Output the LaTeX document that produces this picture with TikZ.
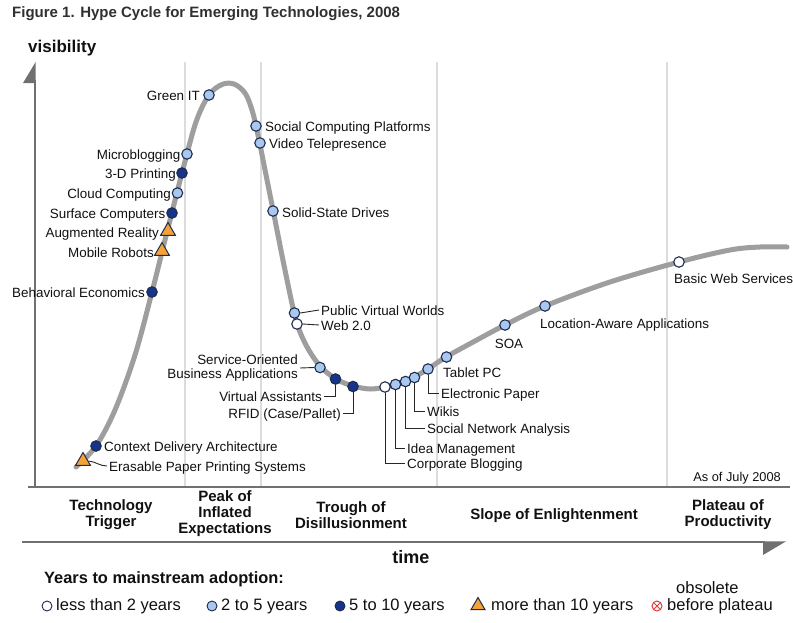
\documentclass[tikz,border=0pt]{standalone}
\usepackage{fontspec}
\setmainfont{Liberation Sans}
\usetikzlibrary{shapes.geometric}
\definecolor{curvegray}{HTML}{9E9E9E}
\definecolor{sepgray}{HTML}{DCDCDC}
\definecolor{axisgray}{HTML}{707070}
\definecolor{mkline}{HTML}{1E2B4E}
\definecolor{lightblue}{HTML}{A9C8F0}
\definecolor{darkblue}{HTML}{16358A}
\definecolor{orangetri}{HTML}{F2A236}
\definecolor{obsred}{HTML}{E03C3C}
\definecolor{txt}{HTML}{111111}
\definecolor{titlegray}{HTML}{303030}
\tikzset{
  mkbase/.style={circle, draw=mkline, line width=1.1pt, inner sep=0pt, minimum size=10.5pt},
  lt2/.style={mkbase, fill=white},
  y25/.style={mkbase, fill=lightblue},
  y510/.style={mkbase, fill=darkblue},
  y10/.style={regular polygon, regular polygon sides=3, draw=mkline, line width=1pt, fill=orangetri, inner sep=0pt, minimum size=17pt},
  lbl/.style={font=\fontsize{13.4}{14.5}\selectfont, text=txt, inner xsep=2pt, inner ysep=0pt, text height=12.5pt, text depth=2.5pt},
  lbltwo/.style={font=\fontsize{13.4}{14.5}\selectfont, text=txt, inner xsep=2pt, inner ysep=0pt, align=right},
  leader/.style={draw=black!85, line width=0.9pt},
  phase/.style={font=\bfseries\fontsize{15}{16}\selectfont, text=txt, align=center, inner sep=0pt},
  lgd/.style={font=\fontsize{16.5}{18}\selectfont, text=txt, inner sep=0pt, text height=12pt, text depth=3.5pt, anchor=west},
  sepline/.style={draw=sepgray, line width=2.6pt},
  axisline/.style={draw=axisgray, line width=1.3pt},
}
\begin{document}
\begin{tikzpicture}[x=1pt, y=-1pt]
\useasboundingbox (0,0) rectangle (793,622);
\fill[white] (0,0) rectangle (793,622);

% title
\node[anchor=west, inner sep=0pt, font=\bfseries\fontsize{15}{17}\selectfont, text=titlegray] (title) at (12,14) {Figure 1. Hype Cycle for Emerging Technologies, 2008};
\node[anchor=west, inner sep=0pt, font=\bfseries\fontsize{17}{19}\selectfont, text=txt] (vis) at (28,48) {visibility};

% phase separators
\foreach \sx in {185,261,437,667} {
  \draw[sepline] (\sx,62) -- (\sx,486);
}

% axes
\draw[axisline] (35,80) -- (35,487);
\fill[axisgray] (35.6,62) -- (35.6,83) -- (23,83) -- cycle;
\draw[axisline] (28,487) -- (790,487);
\draw[axisline] (22,542) -- (765,542);
\fill[axisgray] (763,541.35) -- (786,541.35) -- (763,555) -- cycle;

% hype curve
\draw[curvegray, line width=5pt, line cap=round, line join=round]
  plot[smooth, tension=0.55] coordinates {
  (76,467) (96,446) (115,410) (135,355) (152,292) (167,232) (182,173)
  (196,122) (209,95) (222,84.5) (234,84) (245,93) (252,110) (258,135)
  (266,175) (275,220) (286,275) (296,320) (306,345) (320,366) (336,379)
  (353,386) (370,389) (385,387) (400,383) (414,377) (428,369) (446,357)
  (475,341) (505,325) (545,306) (610,282) (679,262) (730,250) (760,247) (787,247)};

% markers
\node[y10] (tEP) at (83,461) {};
\node[y510] (mCD) at (96,446) {};
\node[y510] (mBE) at (152,292) {};
\node[y10] (tMR) at (162,251) {};
\node[y10] (tAR) at (168,231) {};
\node[y510] (mSC) at (172,213) {};
\node[y25] (mCC) at (177.5,193) {};
\node[y510] (m3D) at (182,173) {};
\node[y25] (mMB) at (187,154) {};
\node[y25] (mGI) at (209,95) {};
\node[y25] (mSCP) at (256,126) {};
\node[y25] (mVT) at (260,143) {};
\node[y25] (mSSD) at (273,211) {};
\node[y25] (mPVW) at (294.5,313) {};
\node[lt2] (mW2) at (297,324) {};
\node[y25] (mSO) at (320,367.5) {};
\node[y510] (mVA) at (335.5,379) {};
\node[y510] (mRF) at (353,386.5) {};
\node[lt2] (mCB) at (385,387) {};
\node[y25] (mIM) at (395.5,384.5) {};
\node[y25] (mSNA) at (405.5,381.5) {};
\node[y25] (mWK) at (414.5,377.5) {};
\node[y25] (mEP) at (428,369) {};
\node[y25] (mTP) at (446.5,357) {};
\node[y25] (mSOA) at (505,325) {};
\node[y25] (mLA) at (545,306) {};
\node[lt2] (mBW) at (679,262) {};

% labels
\node[lbl, anchor=east] (lGI) at (202,95) {Green IT};
\node[lbl, anchor=east] (lMB) at (182.5,154) {Microblogging};
\node[lbl, anchor=east] (l3D) at (178,173) {3-D Printing};
\node[lbl, anchor=east] (lCC) at (173,193) {Cloud Computing};
\node[lbl, anchor=east] (lSC) at (167.5,213) {Surface Computers};
\node[lbl, anchor=east] (lAR) at (161,232) {Augmented Reality};
\node[lbl, anchor=east] (lMR) at (156,252) {Mobile Robots};
\node[lbl, anchor=east] (lBE) at (147,292) {Behavioral Economics};
\node[lbl, anchor=west] (lCD) at (102,446) {Context Delivery Architecture};
\node[lbl, anchor=west] (lEP) at (107,466) {Erasable Paper Printing Systems};
\node[lbl, anchor=west] (lSCP) at (263,126) {Social Computing Platforms};
\node[lbl, anchor=west] (lVT) at (267,143) {Video Telepresence};
\node[lbl, anchor=west] (lSSD) at (280,212) {Solid-State Drives};
\node[lbl, anchor=west] (lPVW) at (319,310) {Public Virtual Worlds};
\node[lbl, anchor=west] (lW2) at (319,325) {Web 2.0};
\node[lbltwo, anchor=east] (lSO) at (300,368) {Service-Oriented\\Business Applications};
\node[lbl, anchor=east] (lVA) at (324,396) {Virtual Assistants};
\node[lbl, anchor=east] (lRF) at (343,413) {RFID (Case/Pallet)};
\node[lbl, anchor=west] (lCB) at (405,463) {Corporate Blogging};
\node[lbl, anchor=west] (lIM) at (405,448) {Idea Management};
\node[lbl, anchor=west] (lSNA) at (425,428) {Social Network Analysis};
\node[lbl, anchor=west] (lWK) at (425,411) {Wikis};
\node[lbl, anchor=west] (lEPa) at (439,393) {Electronic Paper};
\node[lbl, anchor=west] (lTP) at (441,372) {Tablet PC};
\node[lbl] (lSOA) at (509,343) {SOA};
\node[lbl, anchor=west] (lLA) at (538,323) {Location-Aware Applications};
\node[lbl, anchor=west] (lBW) at (672,278) {Basic Web Services};
\node[lbl, anchor=east, font=\fontsize{12.8}{14}\selectfont] (asof) at (783,476) {As of July 2008};

% leaders
\draw[leader] (tEP.east) to[out=-5,in=180] (lEP.west);
\draw[leader] (mPVW.east) -- (lPVW.west);
\draw[leader] (mW2.east) -- (lW2.west);
\draw[leader] (lSO.east) -- (mSO.west);
\draw[leader] (mVA.south) |- (lVA.east);
\draw[leader] (mRF.south) |- (lRF.east);
\draw[leader] (mCB.south) |- (lCB.west);
\draw[leader] (mIM.south) |- (lIM.west);
\draw[leader] (mSNA.south) |- (lSNA.west);
\draw[leader] (mWK.south) |- (lWK.west);
\draw[leader] (mEP.south) |- (lEPa.west);

% phases
\node[phase] (ph1) at (111,515) {Technology\\Trigger};
\node[phase] (ph2) at (225,514) {Peak of\\Inflated\\Expectations};
\node[phase] (ph3) at (351,515) {Trough of\\Disillusionment};
\node[phase] (ph4) at (554,515.5) {Slope of Enlightenment};
\node[phase] (ph5) at (728,515) {Plateau of\\Productivity};

\node[inner sep=0pt, font=\bfseries\fontsize{18}{20}\selectfont, text=txt] (time) at (411,557) {time};

% legend
\node[anchor=west, inner sep=0pt, font=\bfseries\fontsize{16.4}{18}\selectfont, text=txt] (lgtitle) at (44,579) {Years to mainstream adoption:};
\node[lt2, minimum size=10pt, line width=0.9pt] (lg1) at (47,606) {};
\node[lgd] (lg1t) at (56,606) {less than 2 years};
\node[y25, minimum size=10pt, line width=0.9pt] (lg2) at (212,606) {};
\node[lgd] (lg2t) at (221,606) {2 to 5 years};
\node[y510, minimum size=10pt, line width=0.9pt] (lg3) at (340,606) {};
\node[lgd] (lg3t) at (349,606) {5 to 10 years};
\node[y10, minimum size=16pt] (lg4) at (478,605.5) {};
\node[lgd] (lg4t) at (491,606) {more than 10 years};
\node[circle, draw=obsred, line width=1pt, inner sep=0pt, minimum size=10pt,
  path picture={\draw[obsred, line width=1pt] (path picture bounding box.north west) -- (path picture bounding box.south east)
   (path picture bounding box.north east) -- (path picture bounding box.south west);}] (lg5) at (657,606) {};
\node[lgd] (lg5t) at (667,606) {before plateau};
\node[lgd] (lg5o) at (676,589) {obsolete};
\end{tikzpicture}
\end{document}
